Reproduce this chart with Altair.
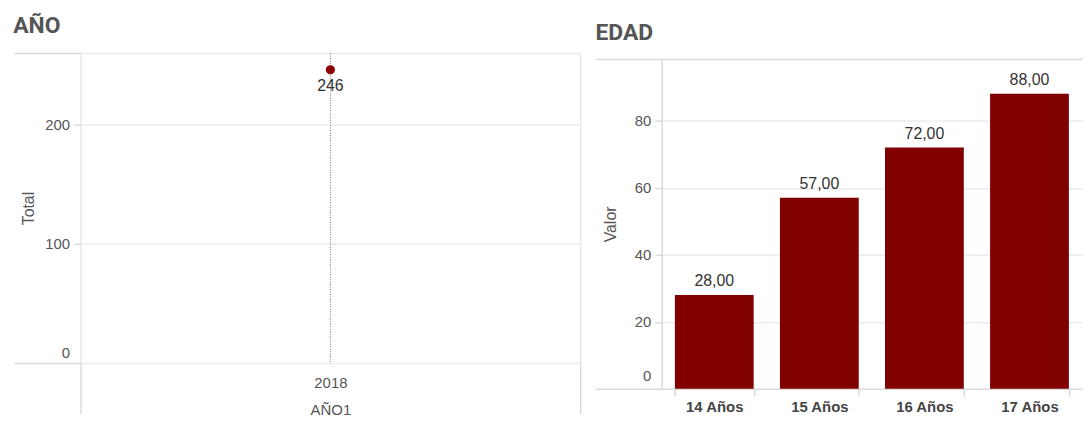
import altair as alt
import pandas as pd

# ---- data ----
anios = ["2018"]
totales = [246]

edades = ["14 Años", "15 Años", "16 Años", "17 Años"]
valores = [28, 57, 72, 88]

left_df = pd.DataFrame({"anio": anios, "total": totales})
right_df = pd.DataFrame({"edad": edades, "valor": valores})

GRID = "#ececec"
FRAME = "#dadada"
TXT = "#555555"
LBL_FONT = "Liberation Sans"

# ---- left panel: AÑO ----
L_TOP = 260
x_left = alt.X(
    "anio:N",
    title="AÑO1",
    scale=alt.Scale(paddingInner=0, paddingOuter=0),
    axis=alt.Axis(
        tickBand="extent", tickSize=51, tickColor=FRAME, tickWidth=1.5,
        labelPadding=-38, labelAngle=0, labelFontSize=15, labelColor=TXT,
        labelFont=LBL_FONT, titleY=40, titleBaseline="top", titleFontSize=15,
        titleFontWeight="normal", titleColor=TXT, titleFont=LBL_FONT,
        domain=False,
    ),
)
y_left = alt.Y(
    "total:Q",
    title="Total",
    scale=alt.Scale(domain=[0, L_TOP], nice=False, zero=True),
    axis=alt.Axis(
        values=[0, 100, 200, L_TOP],
        labelExpr="datum.value > 250 ? '' : datum.label",
        labelFlush=True, labelFlushOffset=-3, grid=True,
        gridColor=GRID, gridWidth=1.5,
        tickSize={"condition": {"test": "datum.value == 0 || datum.value > 250", "value": 67}, "value": 7},
        labelPadding={"condition": {"test": "datum.value == 0", "value": -56}, "value": 4},
        tickColor=FRAME, tickWidth=1.5,
        labelFontSize=15, labelColor=TXT, labelFont=LBL_FONT,
        titleFontSize=16, titleFontWeight="normal", titleColor=TXT,
        titleFont=LBL_FONT, titleX=-44, titleY=156, domain=False,
    ),
)

base_l = alt.Chart(left_df)
rule_l = base_l.mark_rule(color="#6e6e6e", strokeDash=[1, 1.5], strokeWidth=1).encode(x=x_left)
point_l = base_l.mark_circle(size=85, color="#8b0000", opacity=1).encode(x=x_left, y=y_left)
text_l = base_l.mark_text(dy=16, fontSize=16, color="#333333", font=LBL_FONT).encode(
    x=x_left, y=y_left, text=alt.Text("total:Q")
)

left = alt.layer(rule_l, point_l, text_l).properties(
    width=503,
    height=312,
    title=alt.TitleParams(
        text="AÑO", anchor="start", frame="bounds", font="Roboto", fontSize=23,
        fontWeight="bold", color=TXT, baseline="bottom", offset=-9,
    ),
)

# ---- right panel: EDAD ----
Y_TOP = 98.4
x_right = alt.X(
    "edad:N",
    sort=None,
    title=None,
    scale=alt.Scale(paddingInner=0.25, paddingOuter=0.125),
    axis=alt.Axis(
        tickBand="extent", tickSize=7, tickColor=FRAME, tickWidth=1.5,
        labelPadding=4, labelAngle=0, labelFontSize=15, labelFontWeight="bold",
        labelColor="#444444", labelFont=LBL_FONT, domain=False,
    ),
)
y_right = alt.Y(
    "valor:Q",
    title="Valor",
    scale=alt.Scale(domain=[0, Y_TOP], range=[338, 6], nice=False, zero=True),
    axis=alt.Axis(
        values=[0, 20, 40, 60, 80, Y_TOP],
        labelExpr="datum.value > 90 ? '' : datum.label",
        labelFlush=True, labelFlushOffset=-5, grid=True,
        gridColor={"condition": {"test": "datum.value == 0 || datum.value > 90", "value": FRAME}, "value": GRID},
        gridWidth=1.5,
        tickSize={"condition": {"test": "datum.value == 0 || datum.value > 90", "value": 67}, "value": 7},
        labelPadding={"condition": {"test": "datum.value == 0", "value": -56}, "value": 4},
        tickColor=FRAME, tickWidth=1.5,
        labelFontSize=15, labelColor=TXT, labelFont=LBL_FONT,
        titleFontSize=16, titleFontWeight="normal", titleColor=TXT,
        titleFont=LBL_FONT, titleX=-44, titleY=172,
        domain=True, domainColor=FRAME, domainWidth=1.5,
    ),
)

base_r = alt.Chart(right_df).transform_calculate(
    lbl="replace(format(datum.valor, '.2f'), '.', ',')"
)
bars_r = base_r.mark_bar(color="#800000").encode(x=x_right, y=y_right)
text_r = base_r.mark_text(baseline="bottom", dy=-6, fontSize=16, color="#333333", font=LBL_FONT).encode(
    x=x_right, y=y_right, text=alt.Text("lbl:N")
)

right = alt.layer(bars_r, text_r).properties(
    width=423,
    height=338,
    view=alt.ViewBackground(stroke="transparent"),
    title=alt.TitleParams(
        text="EDAD", anchor="start", frame="bounds", font="Roboto", fontSize=23,
        fontWeight="bold", color=TXT, baseline="bottom", offset=-9, dx=1, dy=6,
    ),
)

chart = (
    alt.hconcat(left, right, spacing=11)
    .properties(padding={"left": 4, "top": 5, "right": 0, "bottom": 0})
    .configure_view(stroke=FRAME, strokeWidth=1.5)
    .configure(background="white")
)

chart.save("out.html", embed_options={"renderer": "svg", "actions": False})
